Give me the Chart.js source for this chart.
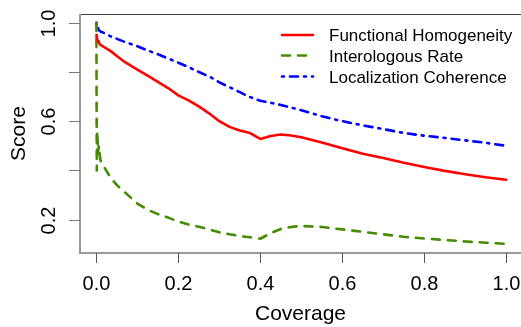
<!DOCTYPE html>
<html>
<head>
<meta charset="utf-8">
<script src="https://cdn.jsdelivr.net/npm/chart.js@4/dist/chart.umd.min.js"></script>
<style>
  html, body { margin: 0; padding: 0; background: #fff; overflow: hidden; }
  canvas { display: block; }
</style>
</head>
<body>
<canvas id="score-chart" width="521" height="327"></canvas>
<script>
const coverage = [
  0, 0.001, 0.002, 0.004, 0.006, 0.01, 0.02, 0.035, 0.05, 0.07,
  0.1, 0.125, 0.15, 0.175, 0.2, 0.225, 0.25, 0.275, 0.3, 0.325,
  0.35, 0.375, 0.4, 0.425, 0.45, 0.475, 0.5, 0.55, 0.6, 0.65,
  0.7, 0.75, 0.8, 0.85, 0.9, 0.95, 1.0,
];

const functionalHomogeneity = [
  0.95, 0.94, 0.935, 0.925, 0.92, 0.91, 0.90, 0.885, 0.865, 0.84,
  0.81, 0.785, 0.76, 0.735, 0.705, 0.685, 0.66, 0.632, 0.60, 0.577,
  0.562, 0.552, 0.528, 0.54, 0.546, 0.542, 0.535, 0.513, 0.49, 0.468,
  0.45, 0.431, 0.414, 0.398, 0.384, 0.372, 0.362,
];

const interologousRate = [
  1.0, 0.40, 0.56, 0.47, 0.50, 0.44, 0.41, 0.37, 0.34, 0.31,
  0.265, 0.24, 0.222, 0.208, 0.192, 0.18, 0.171, 0.16, 0.148, 0.14,
  0.133, 0.128, 0.122, 0.145, 0.162, 0.17, 0.174, 0.17, 0.16, 0.15,
  0.14, 0.13, 0.123, 0.117, 0.111, 0.106, 0.101,
];

const localizationCoherence = [
  1.0, 0.985, 0.975, 0.98, 0.97, 0.965, 0.958, 0.945, 0.935, 0.922,
  0.905, 0.888, 0.872, 0.855, 0.838, 0.82, 0.80, 0.782, 0.758, 0.738,
  0.718, 0.698, 0.683, 0.675, 0.666, 0.655, 0.645, 0.62, 0.60, 0.583,
  0.568, 0.552, 0.541, 0.532, 0.522, 0.512, 0.50,
];

const xTicks = [0, 0.2, 0.4, 0.6, 0.8, 1.0];
const xTickLabels = ['0.0', '0.2', '0.4', '0.6', '0.8', '1.0'];
const yTicks = [0.2, 0.4, 0.6, 0.8, 1.0];
const yTickLabels = ['0.2', '', '0.6', '', '1.0'];

const FONT = '"Liberation Sans", Arial, sans-serif';

const toPoints = (ys) => coverage.map((x, i) => ({ x: x, y: ys[i] }));

const data = {
  datasets: [
    {
      label: 'Functional Homogeneity',
      data: toPoints(functionalHomogeneity),
      borderColor: '#ff0000',
      borderWidth: 2.6,
      borderDash: [],
    },
    {
      label: 'Interologous Rate',
      data: toPoints(interologousRate),
      borderColor: '#458b00',
      borderWidth: 2.6,
      borderDash: [8, 8],
    },
    {
      label: 'Localization Coherence',
      data: toPoints(localizationCoherence),
      borderColor: '#0000ff',
      borderWidth: 2.6,
      borderDash: [2, 6, 8, 6],
    },
  ],
};

// box, axes, tick labels and titles in base-graphics style
const axesPlugin = {
  id: 'axes',
  beforeDatasetsDraw(chart) {
    const { ctx, chartArea: a, scales } = chart;
    const xs = scales.x, ys = scales.y;
    ctx.save();

    ctx.strokeStyle = '#444';
    ctx.lineWidth = 1;
    ctx.beginPath();
    ctx.moveTo(a.left, a.top + 0.5);
    ctx.lineTo(a.right, a.top + 0.5);
    ctx.stroke();

    ctx.strokeStyle = '#9a9a9a';
    ctx.lineWidth = 2;
    ctx.beginPath();
    ctx.moveTo(a.left, a.top);
    ctx.lineTo(a.left, a.bottom);
    ctx.lineTo(a.right, a.bottom);
    ctx.stroke();

    // x ticks
    ctx.strokeStyle = '#555';
    ctx.lineWidth = 1;
    ctx.fillStyle = '#000';
    ctx.font = '20px ' + FONT;
    ctx.textAlign = 'center';
    ctx.textBaseline = 'alphabetic';
    xTicks.forEach((v, i) => {
      const px = Math.round(xs.getPixelForValue(v)) + 0.5;
      ctx.beginPath();
      ctx.moveTo(px, a.bottom);
      ctx.lineTo(px, a.bottom + 10);
      ctx.stroke();
      ctx.fillText(xTickLabels[i], px, 290);
    });

    // y ticks, labels turned to read upwards
    ctx.strokeStyle = '#777';
    yTicks.forEach((v, i) => {
      const py = Math.round(ys.getPixelForValue(v)) + 0.5;
      ctx.beginPath();
      ctx.moveTo(a.left - 11, py);
      ctx.lineTo(a.left, py);
      ctx.stroke();
      if (yTickLabels[i]) {
        ctx.save();
        ctx.translate(55, py);
        ctx.rotate(-Math.PI / 2);
        ctx.fillText(yTickLabels[i], 0, 0);
        ctx.restore();
      }
    });

    // axis titles
    ctx.font = '21px ' + FONT;
    ctx.fillText('Coverage', (a.left + a.right) / 2, 320);
    ctx.save();
    ctx.translate(25, (a.top + a.bottom) / 2);
    ctx.rotate(-Math.PI / 2);
    ctx.fillText('Score', 0, 0);
    ctx.restore();

    ctx.restore();
  },
  afterDraw(chart) {
    const { ctx } = chart;
    const rows = [35, 55.5, 76.5];
    ctx.save();
    ctx.font = '17px ' + FONT;
    ctx.fillStyle = '#000';
    ctx.textAlign = 'left';
    ctx.textBaseline = 'alphabetic';
    chart.data.datasets.forEach((ds, i) => {
      const y = rows[i];
      ctx.strokeStyle = ds.borderColor;
      ctx.lineWidth = ds.borderWidth;
      ctx.lineCap = 'round';
      ctx.setLineDash(ds.borderDash);
      ctx.beginPath();
      ctx.moveTo(282, y);
      ctx.lineTo(313, y);
      ctx.stroke();
      ctx.setLineDash([]);
      ctx.fillText(ds.label, 329, y + 6);
    });
    ctx.restore();
  },
};

const config = {
  type: 'line',
  data: data,
  options: {
    responsive: false,
    animation: false,
    devicePixelRatio: 1,
    layout: {
      padding: { left: 80, top: 14, right: 0, bottom: 74 },
    },
    elements: {
      point: { radius: 0 },
      line: { tension: 0, borderCapStyle: 'round', borderJoinStyle: 'round' },
    },
    scales: {
      x: { type: 'linear', min: -0.04, max: 1.036, display: false },
      y: { type: 'linear', min: 0.064, max: 1.036, display: false },
    },
    plugins: {
      legend: { display: false },
      tooltip: { enabled: false },
    },
  },
  plugins: [axesPlugin],
};

new Chart(document.getElementById('score-chart'), config);
</script>
</body>
</html>
